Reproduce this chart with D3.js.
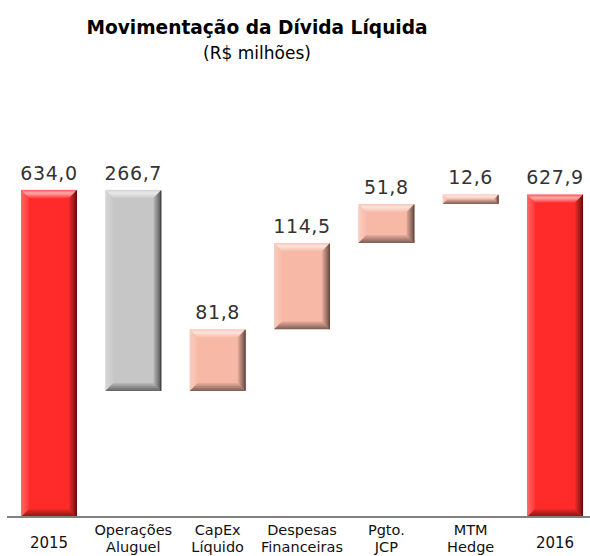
<!DOCTYPE html>
<html><head><meta charset="utf-8">
<script src="https://cdn.jsdelivr.net/npm/d3@7"></script>
<style>body{margin:0;background:#fff}svg{display:block}</style>
</head><body>
<svg id="c" width="590" height="556"></svg>
<script>
const categories = [["2015"], ["Operações","Aluguel"], ["CapEx","Líquido"], ["Despesas","Financeiras"], ["Pgto.","JCP"], ["MTM","Hedge"], ["2016"]];
const values = [634.0, -266.7, 81.8, 114.5, 51.8, 12.6, 627.9];
const kinds = ["total", "decrease", "increase", "increase", "increase", "increase", "total"];
const valueLabels = ["634,0", "266,7", "81,8", "114,5", "51,8", "12,6", "627,9"];
const yDomain = [200, 700];

const svg = d3.select("#c");
const x = d3.scaleBand().domain(d3.range(categories.length)).range([6.8, 597.2]).paddingInner(0.336).paddingOuter(0.168);
const y = d3.scaleLinear().domain(yDomain).range([517, 517 - 500 * 0.7537]);

let run = 0;
const segs = values.map((v, i) => {
  let lo, hi;
  if (kinds[i] === "total") { lo = yDomain[0]; hi = v; run = v; }
  else { const s = run; run = run + v; lo = Math.min(s, run); hi = Math.max(s, run); }
  return { i, lo, hi, kind: kinds[i], label: valueLabels[i] };
});

const colors = { total: "#ff2a2a", decrease: "#c6c6c6", increase: "#f7b8a6" };
const edgeDark = { total: "#7a0000", decrease: "#3a3a3a", increase: "#6e4438" };

const defs = svg.append("defs");
function grad(id, x1, y1, x2, y2, stops) {
  const g = defs.append("linearGradient").attr("id", id).attr("x1", x1).attr("y1", y1).attr("x2", x2).attr("y2", y2);
  stops.forEach(s => g.append("stop").attr("offset", s[0]).attr("stop-color", s[1]).attr("stop-opacity", s[2]));
}
grad("gTop", 0, 0, 0, 1, [[0, "#fff", 0.2], [0.4, "#fff", 0.6], [1, "#fff", 0.1]]);
grad("gLeft", 0, 0, 1, 0, [[0, "#fff", 0.3], [1, "#fff", 0.05]]);
grad("gRight", 0, 0, 1, 0, [[0, "#000", 0.05], [1, "#000", 0.6]]);
grad("gBot", 0, 0, 0, 1, [[0, "#000", 0.05], [1, "#000", 0.5]]);

const bars = svg.append("g");
segs.forEach(s => {
  const x0 = x(s.i), w = x.bandwidth();
  const yt = y(s.hi), yb = y(s.lo), h = yb - yt;
  const g = bars.append("g");
  g.append("rect").attr("x", x0).attr("y", yt).attr("width", w).attr("height", h).attr("fill", colors[s.kind]);
  const b = Math.min(8, h / 2, w / 2);
  const x1 = x0 + w, y1 = yb;
  g.append("path").attr("d", `M${x0},${yt}L${x1},${yt}L${x1-b},${yt+b}L${x0+b},${yt+b}Z`).attr("fill", "url(#gTop)");
  g.append("path").attr("d", `M${x0},${yt}L${x0+b},${yt+b}L${x0+b},${y1-b}L${x0},${y1}Z`).attr("fill", "url(#gLeft)");
  g.append("path").attr("d", `M${x1},${yt}L${x1},${y1}L${x1-b},${y1-b}L${x1-b},${yt+b}Z`).attr("fill", "url(#gRight)");
  g.append("path").attr("d", `M${x0},${y1}L${x1},${y1}L${x1-b},${y1-b}L${x0+b},${y1-b}Z`).attr("fill", "url(#gBot)");
  g.append("rect").attr("x", x1 - 1.2).attr("y", yt + 1).attr("width", 1.2).attr("height", Math.max(0, h - 1)).attr("fill", edgeDark[s.kind]).attr("opacity", 0.7);
  bars.append("text").attr("x", x0 + w / 2).attr("y", yt - 10)
    .attr("text-anchor", "middle").attr("font-family", "DejaVu Sans, Verdana, sans-serif")
    .attr("font-size", 19).attr("letter-spacing", 0.6).attr("fill", "#333").text(s.label);
});

const axis = d3.axisBottom(x).tickSize(0).tickFormat("");
const ax = svg.append("g").attr("transform", "translate(0,517)").call(axis);
ax.select(".domain").attr("stroke", "#808080").attr("stroke-width", 2).attr("d", "M7,0H590");
ax.selectAll(".tick").each(function(d) {
  const lines = categories[d];
  const t = d3.select(this).append("text").attr("fill", "#111")
    .attr("font-family", "DejaVu Sans, Verdana, sans-serif").attr("font-size", 14.5)
    .attr("text-anchor", "middle");
  if (lines.length === 1) {
    t.append("tspan").attr("x", 0).attr("y", 31).attr("font-size", 15).text(lines[0]);
  } else {
    lines.forEach((l, k) => t.append("tspan").attr("x", 0).attr("y", 18 + k * 17).text(l));
  }
});

svg.append("text").attr("x", 257).attr("y", 34).attr("text-anchor", "middle")
  .attr("font-family", "DejaVu Sans, Verdana, sans-serif").attr("font-weight", "bold").attr("font-size", 18.6)
  .attr("fill", "#000").text("Movimentação da Dívida Líquida");
svg.append("text").attr("x", 257).attr("y", 59).attr("text-anchor", "middle")
  .attr("font-family", "DejaVu Sans, Verdana, sans-serif").attr("font-size", 17)
  .attr("fill", "#000").text("(R$ milhões)");
</script>
</body></html>
